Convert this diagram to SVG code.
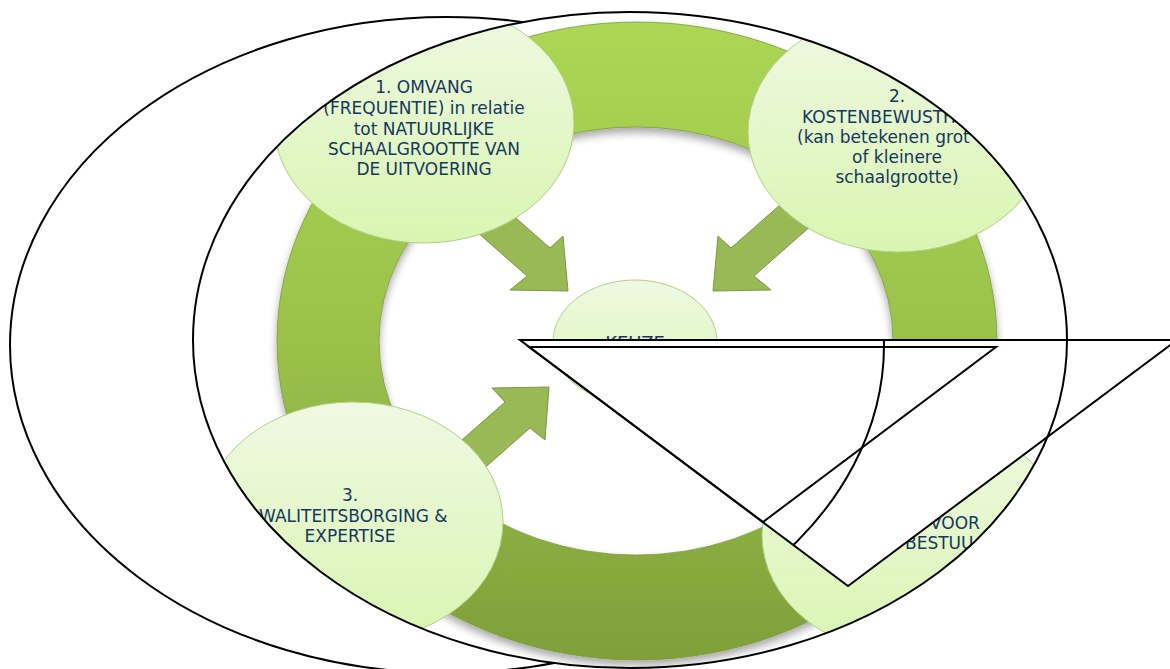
<svg xmlns="http://www.w3.org/2000/svg" width="1170" height="669" viewBox="0 0 1170 669">
<style>
  .bubble { fill: url(#circGrad); stroke: #b3cd86; stroke-width: 1; }
  .arrow { fill: #98b955; stroke: #7a9940; stroke-width: 1; }
  .lbl { font-family: "DejaVu Sans", Verdana, sans-serif; font-size: 17px; fill: #17375e; }
  .mid { text-anchor: middle; }
  .outline { fill: none; stroke: #000; stroke-width: 2; }
</style>
<defs>
  <linearGradient id="ringGrad" x1="0" y1="0" x2="0" y2="1">
    <stop offset="0" stop-color="#acd653"/>
    <stop offset="0.5" stop-color="#9bc14b"/>
    <stop offset="1" stop-color="#7f9f39"/>
  </linearGradient>
  <linearGradient id="circGrad" x1="0" y1="0" x2="0" y2="1">
    <stop offset="0" stop-color="#eff9e3"/>
    <stop offset="1" stop-color="#d9f5b1"/>
  </linearGradient>
  <filter id="shadow" x="-10%" y="-10%" width="120%" height="125%">
    <feGaussianBlur in="SourceAlpha" stdDeviation="4"/>
    <feOffset dy="5"/>
    <feComponentTransfer><feFuncA type="linear" slope="0.35"/></feComponentTransfer>
    <feMerge><feMergeNode/><feMergeNode in="SourceGraphic"/></feMerge>
  </filter>
  <clipPath id="clipE2"><ellipse cx="630" cy="340" rx="437" ry="328"/></clipPath>
  <clipPath id="clipNotT1"><path clip-rule="evenodd" d="M0 0H1170V669H0Z M520 340 L1177 340 L848 586 Z"/></clipPath>
</defs>
<rect width="1170" height="669" fill="#fff"/>
<ellipse id="outline-left" class="outline" cx="447" cy="345" rx="437" ry="328"/>
<g clip-path="url(#clipE2)">
  <g clip-path="url(#clipNotT1)">
    <rect width="1170" height="669" fill="#fff"/>
    <g id="ring">
      <path filter="url(#shadow)" fill="url(#ringGrad)" fill-rule="evenodd" stroke="#7a9a3a" stroke-width="0.8"
        d="M277 341 a360 319 0 1 0 720 0 a360 319 0 1 0 -720 0 Z M379 341 a257 214 0 1 0 514 0 a257 214 0 1 0 -514 0 Z"/>
    </g>
    <g id="connectors">
      <polygon class="arrow" points="475,182 550,248 563,236 568,291 510,290 527,276 452,210"/>
      <polygon class="arrow" points="806,182 731,248 718,236 713,291 771,290 754,276 829,210"/>
      <polygon class="arrow" points="430,468 505,402 492,388 549,387 545,440 530,428 455,494"/>
    </g>
    <g id="node1">
      <ellipse class="bubble" cx="424" cy="123" rx="150" ry="120"/>
      <text class="lbl mid" x="424" y="93">1. OMVANG</text>
      <text class="lbl mid" x="424" y="114">(FREQUENTIE) in relatie</text>
      <text class="lbl mid" x="424" y="135">tot NATUURLIJKE</text>
      <text class="lbl mid" x="424" y="155">SCHAALGROOTTE VAN</text>
      <text class="lbl mid" x="424" y="175">DE UITVOERING</text>
    </g>
    <g id="node2">
      <ellipse class="bubble" cx="898" cy="132" rx="150" ry="120"/>
      <text class="lbl mid" x="897" y="102">2.</text>
      <text class="lbl" x="802" y="123">KOSTENBEWUSTH</text>
      <text class="lbl" x="797" y="143">(kan betekenen grot</text>
      <text class="lbl mid" x="897" y="163">of kleinere</text>
      <text class="lbl mid" x="897" y="183">schaalgrootte)</text>
    </g>
    <g id="node3">
      <ellipse class="bubble" cx="353" cy="522" rx="150" ry="120"/>
      <text class="lbl mid" x="350" y="501">3.</text>
      <text class="lbl" x="259" y="522">WALITEITSBORGING &amp;</text>
      <text class="lbl mid" x="350" y="542">EXPERTISE</text>
    </g>
    <g id="node4">
      <ellipse class="bubble" cx="912" cy="535" rx="150" ry="120"/>
      <text class="lbl" x="930" y="529">VOOR</text>
      <text class="lbl" x="905" y="549">BESTUU</text>
    </g>
    <g id="node-center">
      <ellipse class="bubble" cx="635" cy="342" rx="82" ry="62"/>
      <text class="lbl mid" x="635" y="349" style="font-size:18px">KEUZE</text>
    </g>
  </g>
</g>
<polygon id="triangle-outer" class="outline" points="520,340 1177,340 848,586"/>
<polygon id="triangle-inner" class="outline" points="529,347 996,347 763,522"/>
<ellipse id="outline-right" class="outline" cx="630" cy="340" rx="437" ry="328"/>
</svg>
